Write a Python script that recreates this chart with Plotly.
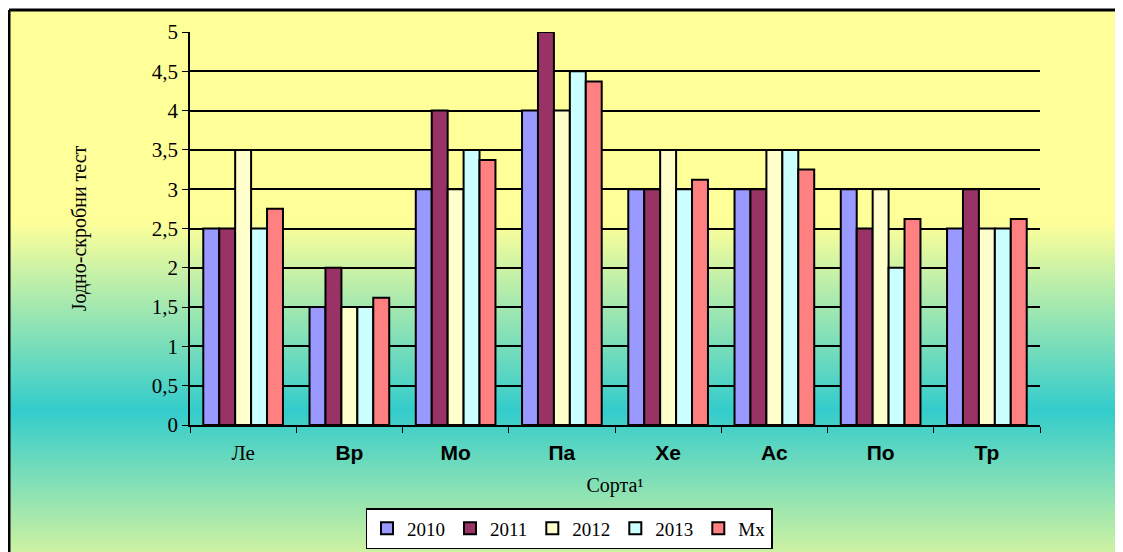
import base64
import plotly.graph_objects as go

# data
sorts = ["Ле", "Вр", "Мо", "Па", "Хе", "Ас", "По", "Тр"]
bold_label = [False, True, True, True, True, True, True, True]
v2010 = [2.5, 1.5, 3.0, 4.0, 3.0, 3.0, 3.0, 2.5]
v2011 = [2.5, 2.0, 4.0, 5.0, 3.0, 3.0, 2.5, 3.0]
v2012 = [3.5, 1.5, 3.0, 4.0, 3.5, 3.5, 3.0, 2.5]
v2013 = [2.5, 1.5, 3.5, 4.5, 3.0, 3.5, 2.0, 2.5]
vmx = [2.75, 1.62, 3.37, 4.37, 3.12, 3.25, 2.62, 2.62]

series = [("2010", v2010, "#9999FF"),
          ("2011", v2011, "#993366"),
          ("2012", v2012, "#FFFFCC"),
          ("2013", v2013, "#CCFFFF"),
          ("Mx", vmx, "#FF8080")]

# page body has an 8px margin, so figure coords = page coords - 8
OFF = 8
W, H = 1123, 552
# plot area in page px: x 190..1040, y 32..425
L, T = 190 - OFF, 32 - OFF
R, B = W - (1040 - OFF), H - (425 - OFF)
pw, ph = W - L - R, H - T - B

serif = "Liberation Serif, Times New Roman, serif"

# background gradient of the chart area (yellow -> turquoise -> light yellow)
svg = ('<svg xmlns="http://www.w3.org/2000/svg" width="100" height="100" preserveAspectRatio="none">'
       '<defs><linearGradient id="g" x1="0" y1="0" x2="0" y2="1">'
       '<stop offset="0" stop-color="#FFFF99"/>'
       '<stop offset="0.37" stop-color="#FFFF99"/>'
       '<stop offset="0.70" stop-color="#33CCCC"/>'
       '<stop offset="1" stop-color="#EEFA99"/>'
       '</linearGradient></defs>'
       '<rect width="100" height="100" fill="url(#g)"/></svg>')
bg_src = "data:image/svg+xml;base64," + base64.b64encode(svg.encode()).decode()

ticktext = []
for s, b in zip(sorts, bold_label):
    if b:
        ticktext.append(f"<span style='font-family:Liberation Sans'><b>{s}</b></span>")
    else:
        ticktext.append(s)

fig = go.Figure()
for name, vals, col in series:
    fig.add_trace(go.Bar(x=sorts, y=vals, name=name,
                         marker=dict(color=col, line=dict(color="black", width=2))))

# page px -> paper coords
def px_x(p):
    return (p - OFF - L) / pw
def px_y(p):
    return (H - B - (p - OFF)) / ph

# frame from page (9,10) running off the right/bottom edge
fx0, fy0 = 9, 10
fx1, fy1 = W + 30, H + 30
fig.add_layout_image(dict(source=bg_src, xref="paper", yref="paper",
                          x=px_x(fx0), y=px_y(fy0),
                          sizex=(fx1 - fx0) / pw, sizey=(fy1 - fy0) / ph,
                          xanchor="left", yanchor="top", sizing="stretch",
                          layer="below"))
frame = dict(color="black", width=3)
fig.add_shape(type="line", xref="paper", yref="paper",
              x0=px_x(fx0), y0=px_y(fy0), x1=px_x(fx1), y1=px_y(fy0), line=frame)
fig.add_shape(type="line", xref="paper", yref="paper",
              x0=px_x(fx0), y0=px_y(fy0), x1=px_x(fx0), y1=px_y(fy1), line=frame)

fig.update_layout(
    width=W, height=H,
    margin=dict(l=L, r=R, t=T, b=B, autoexpand=False),
    paper_bgcolor="white",
    plot_bgcolor="#99CCFF",
    separators=", ",
    barmode="group",
    bargap=0.25,
    bargroupgap=0,
    font=dict(family=serif, size=20, color="black"),
    showlegend=True,
    legend=dict(orientation="h", x=px_x(569), xanchor="center",
                y=px_y(508), yanchor="top",
                bgcolor="white", bordercolor="black", borderwidth=1.5,
                font=dict(family=serif, size=19), traceorder="normal"),
)

fig.update_xaxes(tickvals=sorts, ticktext=ticktext, tickson="boundaries",
                 ticks="outside", ticklen=6, tickcolor="black",
                 showline=True, linecolor="black", linewidth=1.5,
                 tickfont=dict(family=serif, size=21), ticklabelstandoff=8,
                 title=dict(text="Сорта¹", font=dict(family=serif, size=20), standoff=14))
fig.update_yaxes(range=[0, 5], dtick=0.5, ticks="outside", ticklen=6, tickcolor="black",
                 showline=True, linecolor="black", linewidth=1.5,
                 showgrid=True, gridcolor="black", gridwidth=1.5,
                 zeroline=False,
                 tickfont=dict(family=serif, size=21),
                 title=dict(text="Јодно-скробни тест", font=dict(family=serif, size=20),
                            standoff=60))

fig.write_html("out.html")
